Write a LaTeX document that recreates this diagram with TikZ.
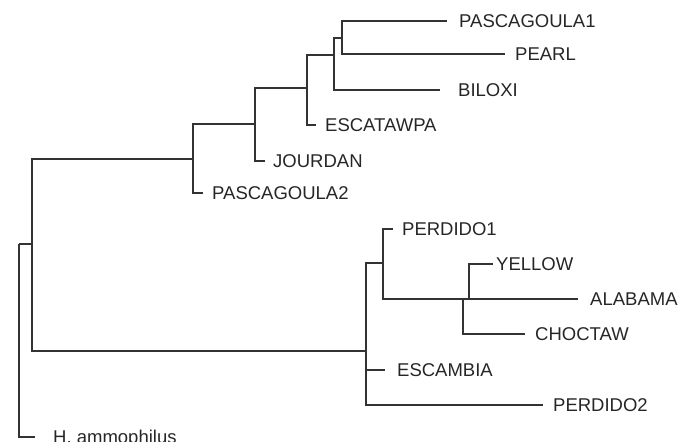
\documentclass[tikz,border=0pt]{standalone}
\usepackage{fontspec}
\setmainfont{Liberation Sans}
\usepackage{xcolor}

\begin{document}
\begin{tikzpicture}[x=1pt,y=-1pt]
\tikzset{branch/.style={line width=1.3pt,color=black!80},
         leaf/.style={anchor=west,inner xsep=10pt,inner ysep=0pt,text height=13.2pt,text depth=0pt,
                      font=\fontsize{18.5}{20}\selectfont,text=black!85}}
\useasboundingbox (0,0) rectangle (694,442);
% Internal nodes (x of the vertical, y where the parent joins)
\coordinate (root) at (19,244);
\coordinate (nA) at (32,244);
\coordinate (nB) at (193,159);
\coordinate (nC) at (255,124);
\coordinate (nD) at (307,88);
\coordinate (nE) at (334,55);
\coordinate (nF) at (342,38);
\coordinate (nL) at (366,351);
\coordinate (nM) at (383,263);
\coordinate (nN) at (463,299);
\coordinate (nO) at (469,299);
% Leaves
\node[leaf,inner xsep=12pt] (pasc1) at (447,21) {PASCAGOULA1};
\node[leaf] (pearl) at (505,54) {PEARL};
\node[leaf,inner xsep=18pt] (biloxi) at (440,90) {BILOXI};
\node[leaf,inner xsep=9pt] (escat) at (316,125) {ESCATAWPA};
\node[leaf,inner xsep=8pt] (jourdan) at (265,161) {JOURDAN};
\node[leaf,inner xsep=9pt] (pasc2) at (203,193) {PASCAGOULA2};
\node[leaf,inner xsep=9pt] (perd1) at (393,229) {PERDIDO1};
\node[leaf,inner xsep=3pt] (yellow) at (493,264) {YELLOW};
\node[leaf,inner xsep=12pt] (alabama) at (578,299) {ALABAMA};
\node[leaf] (choctaw) at (525,334) {CHOCTAW};
\node[leaf,inner xsep=12pt] (escamb) at (385,370) {ESCAMBIA};
\node[leaf] (perd2) at (543,405) {PERDIDO2};
\node[leaf,inner xsep=18pt] (hamm) at (35,437) {H. ammophilus};
% Branches
\draw[branch] (root) |- (nA);
\draw[branch] (root) |- (hamm.west);
\draw[branch] (nA) |- (nB);
\draw[branch] (nA) |- (nL);
\draw[branch] (nB) |- (nC);
\draw[branch] (nB) |- (pasc2.west);
\draw[branch] (nC) |- (nD);
\draw[branch] (nC) |- (jourdan.west);
\draw[branch] (nD) |- (nE);
\draw[branch] (nD) |- (escat.west);
\draw[branch] (nE) |- (nF);
\draw[branch] (nE) |- (biloxi.west);
\draw[branch] (nF) |- (pasc1.west);
\draw[branch] (nF) |- (pearl.west);
\draw[branch] (nL) |- (nM);
\draw[branch] (nL) |- (escamb.west);
\draw[branch] (nL) |- (perd2.west);
\draw[branch] (nM) |- (perd1.west);
\draw[branch] (nM) |- (nN);
\draw[branch] (nN) |- (nO);
\draw[branch] (nN) |- (choctaw.west);
\draw[branch] (nO) |- (yellow.west);
\draw[branch] (nO) |- (alabama.west);
\end{tikzpicture}
\end{document}
